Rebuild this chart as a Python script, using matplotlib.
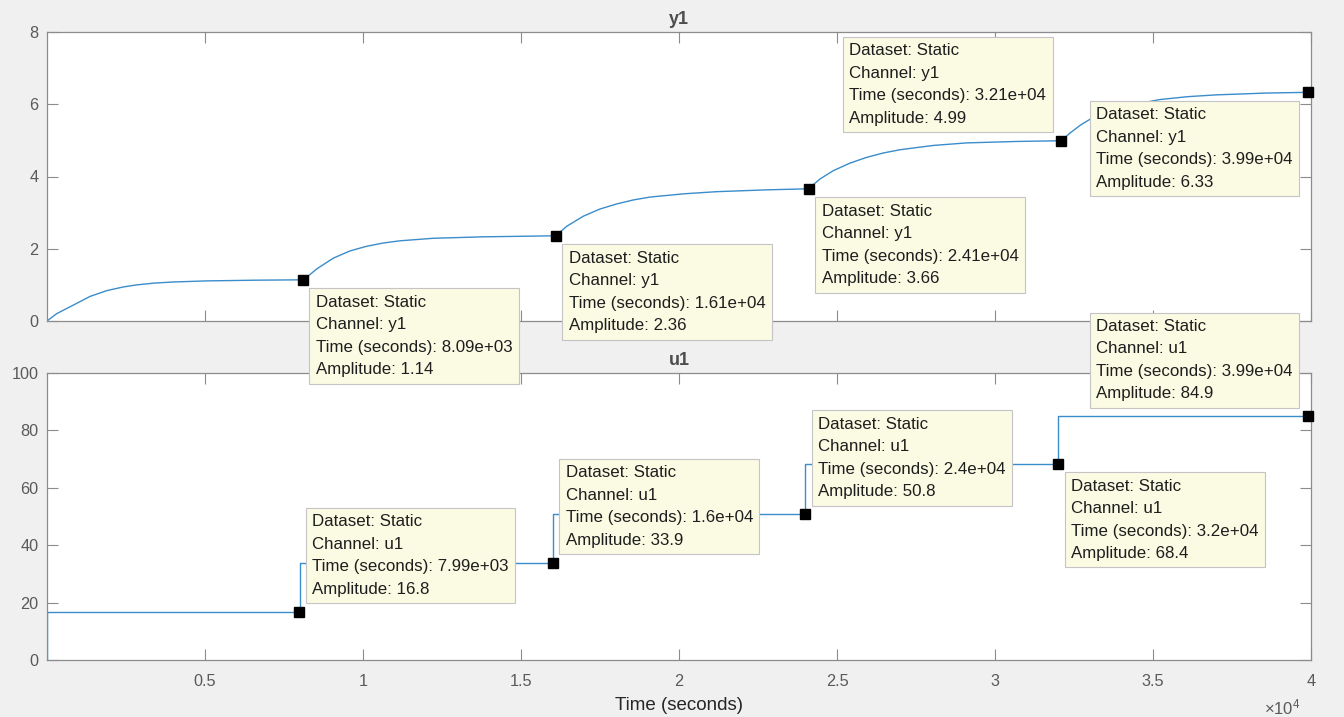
import matplotlib
matplotlib.use("Agg")
import matplotlib.pyplot as plt
from matplotlib.text import Annotation

plt.rcParams['font.family'] = ['Liberation Sans', 'DejaVu Sans']
plt.rcParams['mathtext.default'] = 'regular'

# ---- output channel y1 (response to the staircase input) ----
y1_time = [0, 300, 833, 1360, 1890, 2400, 2840, 3400, 4000, 5050, 6630, 8090,
           8300, 8534, 9060, 9590, 10120, 10650, 11170, 12225, 13800, 15390, 16100,
           16445, 16970, 17500, 18030, 18550, 19080, 20140, 21190, 22770, 24100,
           24460, 24880, 25410, 25940, 26460, 26990, 28050, 29100, 30680, 32100,
           32370, 32700, 33110, 33600, 34200, 35215, 36100, 37010, 38590, 39900, 40000]
y1_value = [0.0, 0.20, 0.44, 0.68, 0.84, 0.94, 1.00, 1.05, 1.08, 1.11, 1.13, 1.14,
            1.27, 1.44, 1.74, 1.94, 2.07, 2.16, 2.22, 2.29, 2.33, 2.35, 2.36,
            2.62, 2.90, 3.10, 3.24, 3.35, 3.43, 3.52, 3.58, 3.63, 3.66,
            3.93, 4.16, 4.37, 4.53, 4.65, 4.74, 4.86, 4.93, 4.97, 4.99,
            5.20, 5.42, 5.64, 5.82, 5.96, 6.13, 6.21, 6.26, 6.31, 6.33, 6.33]

# ---- input channel u1 (staircase) ----
u1_step_time = [0, 8000, 16000, 24000, 32000]
u1_level = [16.8, 33.9, 50.8, 68.4, 84.9]
t_end = 40000

# ---- data tips ----
y1_tip_time = [8090, 16100, 24100, 32100, 39900]
y1_tip_value = [1.14, 2.36, 3.66, 4.99, 6.33]
y1_tip_corner = ['lr', 'lr', 'lr', 'ul', 'll']

u1_tip_time = [7990, 16000, 24000, 32000, 39900]
u1_tip_value = [16.8, 33.9, 50.8, 68.4, 84.9]
u1_tip_corner = ['ur', 'ur', 'ur', 'lr', 'ul']

x_ticks = [5000, 10000, 15000, 20000, 25000, 30000, 35000, 40000]
x_tick_labels = ['0.5', '1', '1.5', '2', '2.5', '3', '3.5', '4']
y1_ticks = [0, 2, 4, 6, 8]
u1_ticks = [0, 20, 40, 60, 80, 100]

LINE = '#3a8cca'
SPINE = '#8c8c8c'
TICKLBL = '#5a5a5a'
TIP_FS = 12.2

fig = plt.figure(figsize=(13.44, 7.17), dpi=100, facecolor='#f0f0f0')
ax1 = fig.add_axes([47 / 1344, 1 - 321 / 717, 1264 / 1344, 289 / 717])
ax2 = fig.add_axes([47 / 1344, 1 - 660 / 717, 1264 / 1344, 287 / 717])


def style_axes(ax, yticks, ylim, show_xlabels):
    ax.set_facecolor('white')
    ax.set_xlim(0, t_end)
    ax.set_ylim(*ylim)
    ax.set_xticks(x_ticks)
    ax.set_xticklabels(x_tick_labels if show_xlabels else [])
    ax.set_yticks(yticks)
    ax.set_yticklabels([str(v) for v in yticks])
    for s in ax.spines.values():
        s.set_color(SPINE)
        s.set_linewidth(0.9)
    ax.tick_params(direction='in', length=8, width=0.8, color=SPINE,
                   top=True, right=True, labelsize=11.7, labelcolor=TICKLBL,
                   pad=6)
    ax.tick_params(axis='x', pad=10)


style_axes(ax1, y1_ticks, (0, 8), False)
style_axes(ax2, u1_ticks, (0, 100), True)

ax1.set_title('y1', fontsize=13, fontweight='bold', color='#4d4d4d', pad=6)
ax2.set_title('u1', fontsize=13, fontweight='bold', color='#4d4d4d', pad=6)

ax1.plot(y1_time, y1_value, color=LINE, lw=1.0, zorder=2)

u_t = [0] + u1_step_time + [t_end]
u_v = [0] + u1_level + [u1_level[-1]]
ax2.step(u_t, u_v, where='post', color=LINE, lw=1.0, zorder=2)

ax1.plot(y1_tip_time, y1_tip_value, 's', color='black', ms=7.5, zorder=4, clip_on=False)
ax2.plot(u1_tip_time, u1_tip_value, 's', color='black', ms=7.5, zorder=4, clip_on=False)

ax2.set_xlabel('Time (seconds)', fontsize=13.5, color='#262626', labelpad=6)
ax2.text(0.992, -0.19, r'$\times10^{4}$', transform=ax2.transAxes,
         ha='right', va='baseline', fontsize=12, color=TICKLBL)


def add_tip(ax, channel, t, v, corner):
    txt = ("Dataset: Static\nChannel: %s\nTime (seconds): %s\nAmplitude: %s"
           % (channel, '%.3g' % t, '%.3g' % v))
    dx = 13 if corner[1] == 'r' else -15
    dy = 15 if corner[0] == 'u' else -15
    ha = 'left' if corner[1] == 'r' else 'right'
    va = 'bottom' if corner[0] == 'u' else 'top'
    ann = Annotation(txt, xy=(t, v), xycoords=ax.transData,
                     xytext=(dx, dy), textcoords='offset pixels',
                     ha=ha, va=va, multialignment='left',
                     fontsize=TIP_FS, color='#1e1e1e', linespacing=1.62,
                     bbox=dict(boxstyle='square,pad=0.38', fc='#fbfbe4',
                               ec='#c4c4c4', lw=0.8),
                     annotation_clip=False, zorder=10)
    fig.add_artist(ann)


for t, v, c in zip(y1_tip_time, y1_tip_value, y1_tip_corner):
    add_tip(ax1, 'y1', t, v, c)
for t, v, c in zip(u1_tip_time, u1_tip_value, u1_tip_corner):
    add_tip(ax2, 'u1', t, v, c)

fig.savefig('out.png', dpi=100, facecolor=fig.get_facecolor())
